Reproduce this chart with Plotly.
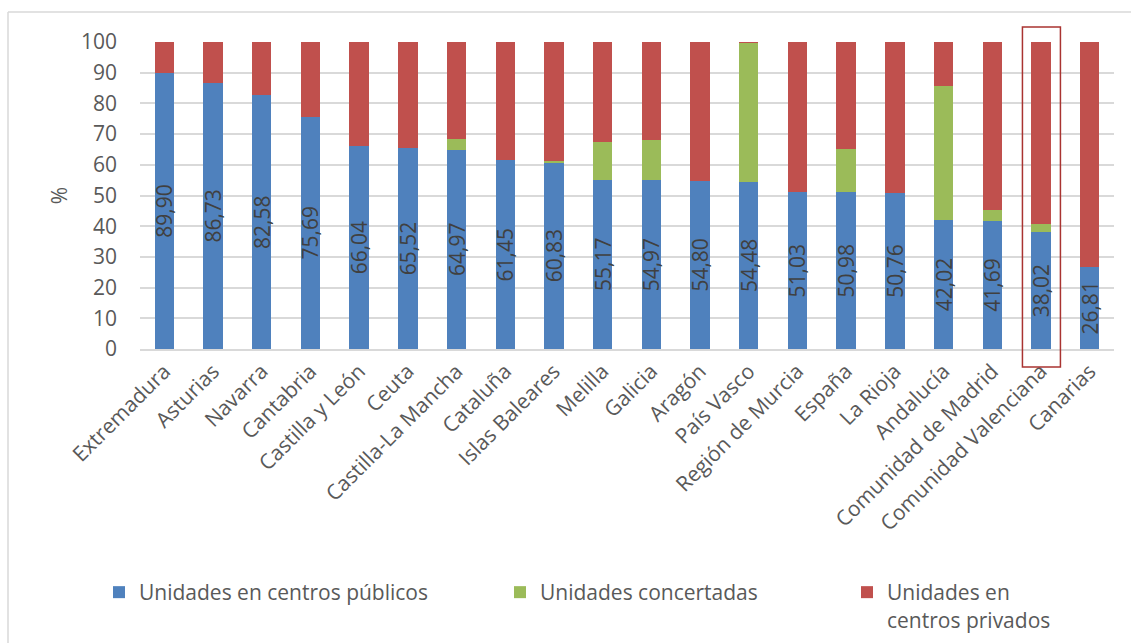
import plotly.graph_objects as go

categories = ["Extremadura", "Asturias", "Navarra", "Cantabria", "Castilla y León", "Ceuta",
              "Castilla-La Mancha", "Cataluña", "Islas Baleares", "Melilla", "Galicia", "Aragón",
              "País Vasco", "Región de Murcia", "España", "La Rioja", "Andalucía",
              "Comunidad de Madrid", "Comunidad Valenciana", "Canarias"]
publicos = [89.90, 86.73, 82.58, 75.69, 66.04, 65.52, 64.97, 61.45, 60.83, 55.17, 54.97, 54.80,
            54.48, 51.03, 50.98, 50.76, 42.02, 41.69, 38.02, 26.81]
concertadas = [0, 0, 0, 0, 0, 0, 3.4, 0, 0.5, 12.2, 13.1, 0, 45.3, 0, 14.1, 0, 43.6, 3.6, 2.7, 0]
privados = [round(100 - p - c, 2) for p, c in zip(publicos, concertadas)]
labels = [f"{v:.2f}".replace(".", ",") for v in publicos]

FONT = "Open Sans"
BLUE, GREEN, RED = "#4F81BD", "#9BBB59", "#C0504D"
W, H = 1131, 643

fig = go.Figure()
fig.add_trace(go.Bar(x=categories, y=publicos, name="Unidades en centros públicos",
                     marker=dict(color=BLUE, line=dict(width=0)),
                     text=labels, textposition="inside", insidetextanchor="middle",
                     textangle=-90, constraintext="none",
                     textfont=dict(family=FONT, size=21, color="#404040"),
                     legend="legend"))
fig.add_trace(go.Bar(x=categories, y=concertadas, name="Unidades concertadas",
                     marker=dict(color=GREEN, line=dict(width=0)), legend="legend2"))
fig.add_trace(go.Bar(x=categories, y=privados, name="Unidades en<br>centros privados",
                     marker=dict(color=RED, line=dict(width=0)), legend="legend3"))

leg_common = dict(orientation="h", yanchor="top", xanchor="left", valign="top",
                  xref="container", yref="container",
                  font=dict(family=FONT, size=21, color="#595959"),
                  bgcolor="rgba(0,0,0,0)", itemclick=False, itemdoubleclick=False)
LEG_Y = 1 - 572 / H

fig.update_layout(
    barmode="stack",
    bargap=0.6,
    width=W, height=H,
    margin=dict(l=140, r=17, t=42, b=294, autoexpand=False),
    paper_bgcolor="white", plot_bgcolor="white",
    font=dict(family=FONT, color="#595959"),
    showlegend=True,
    legend=dict(x=99 / W, y=LEG_Y, **leg_common),
    legend2=dict(x=500 / W, y=LEG_Y, **leg_common),
    legend3=dict(x=847 / W, y=LEG_Y, **leg_common),
)
fig.update_yaxes(range=[0, 100], dtick=10, showgrid=True, gridcolor="#D9D9D9", gridwidth=1.5,
                 zeroline=False, showline=False, ticks="", ticklabelstandoff=22,
                 tickfont=dict(family=FONT, size=21, color="#595959"),
                 title=dict(text="%", font=dict(family=FONT, size=21, color="#595959"), standoff=7))
fig.update_xaxes(tickangle=-45, showline=True, linecolor="#D9D9D9", linewidth=1.5,
                 ticks="", automargin=False,
                 tickfont=dict(family=FONT, size=21, color="#595959"))

# outer chart border (top and left visible)
fig.add_shape(type="line", xref="paper", yref="paper", x0=(8 - 140) / 974, x1=1.1,
              y0=(349 - 12) / 307, y1=(349 - 12) / 307, line=dict(color="#D9D9D9", width=1.5))
fig.add_shape(type="line", xref="paper", yref="paper", x0=(8 - 140) / 974, x1=(8 - 140) / 974,
              y0=(349 - 12) / 307, y1=-1.2, line=dict(color="#D9D9D9", width=1.5))
# highlight box around Comunidad Valenciana
fig.add_shape(type="rect", xref="x", yref="paper", x0=17.62, x1=18.4,
              y0=(349 - 367) / 307, y1=(349 - 27) / 307,
              line=dict(color="#A93331", width=1.5), layer="above")

fig.write_html("out.html")
